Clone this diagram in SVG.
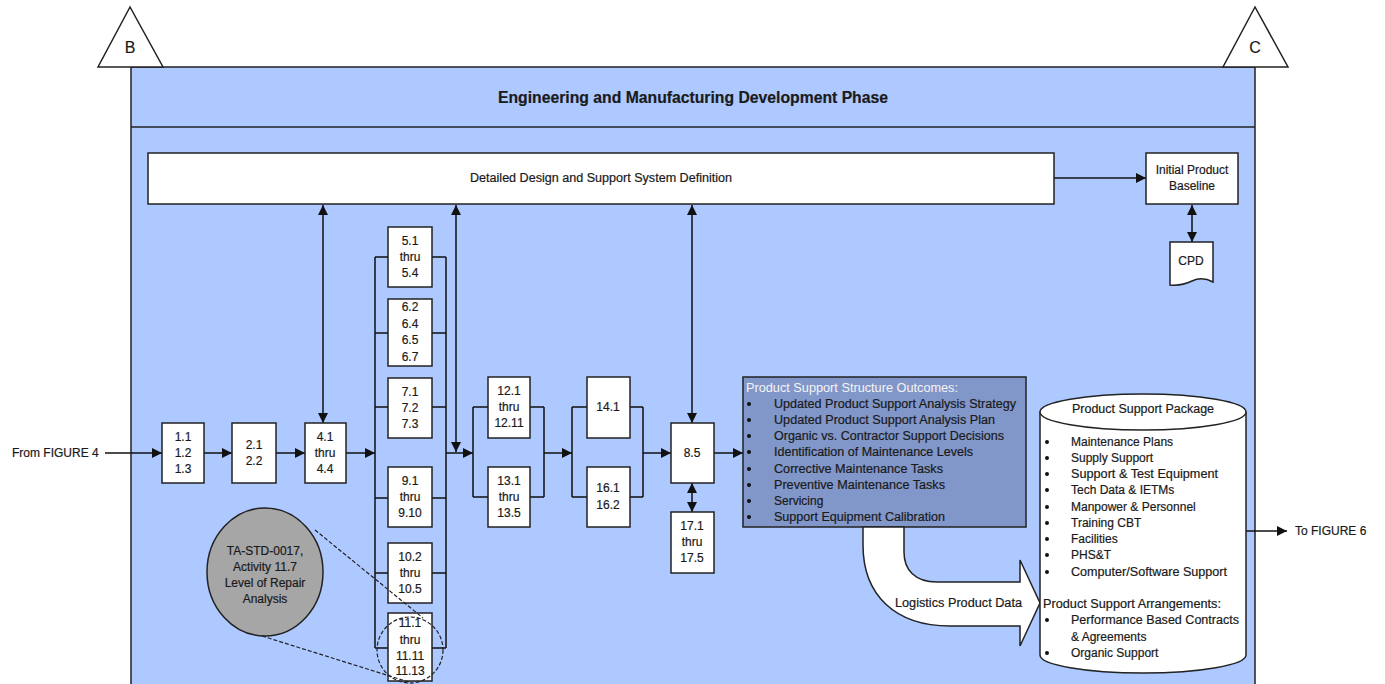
<svg xmlns="http://www.w3.org/2000/svg" width="1385" height="684" viewBox="0 0 1385 684">
<defs>
<marker id="ah" viewBox="0 0 10 10" refX="10" refY="5" markerWidth="10" markerHeight="10" markerUnits="userSpaceOnUse" orient="auto-start-reverse">
<path d="M0,0 L10,5 L0,10 Z" fill="#111"/>
</marker>
<style>
text{font-family:"Liberation Sans",Arial,sans-serif;fill:#1a1a1a;stroke:#1a1a1a;stroke-width:0.2;}
.t{font-size:12px;}
.c{text-anchor:middle;}
.box{fill:#fff;stroke:#222;stroke-width:1.5;}
.ln{fill:none;stroke:#111;stroke-width:1.5;}
.ar{fill:none;stroke:#111;stroke-width:1.5;marker-end:url(#ah);}
.da{fill:none;stroke:#111;stroke-width:1.5;marker-start:url(#ah);marker-end:url(#ah);}
.dash{fill:none;stroke:#222;stroke-width:1.2;stroke-dasharray:4,2;}
</style>
</defs>
<rect width="1385" height="684" fill="#fff"/>
<g id="frame">
<rect x="131" y="67" width="1124" height="640" fill="#ADC9FF" stroke="#222" stroke-width="1.5"/>
<line x1="131" y1="127" x2="1255" y2="127" stroke="#222" stroke-width="1.5"/>
<text x="693" y="103" class="c" font-size="16" font-weight="bold" textLength="390" lengthAdjust="spacingAndGlyphs">Engineering and Manufacturing Development Phase</text>
</g>
<g id="tri-b">
<polygon points="130,7 98,67 163,67" fill="#fff" stroke="#222" stroke-width="1.5"/>
<text x="130" y="53" class="c" font-size="16">B</text>
</g>
<g id="tri-c">
<polygon points="1255,7 1223,67 1288,67" fill="#fff" stroke="#222" stroke-width="1.5"/>
<text x="1255" y="53" class="c" font-size="16">C</text>
</g>
<g id="connectors">
<line class="ar" x1="105" y1="453" x2="162" y2="453"/>
<line class="ar" x1="204" y1="453" x2="232" y2="453"/>
<line class="ar" x1="276" y1="453" x2="305" y2="453"/>
<line class="ar" x1="346" y1="453" x2="375" y2="453"/>
<line class="da" x1="323" y1="205" x2="323" y2="423"/>
<path class="ln" d="M375,257 V648 M446,257 V648 M375,257 H388 M432,257 H446 M375,333 H388 M432,333 H446 M375,407 H388 M432,407 H446 M375,498 H388 M432,498 H446 M375,573 H388 M432,573 H446 M375,648 H388 M432,648 H446"/>
<line class="ar" x1="446" y1="453" x2="473" y2="453"/>
<line class="da" x1="456" y1="205" x2="456" y2="452"/>
<path class="ln" d="M473,407 V497 M544,407 V497 M473,407 H488 M530,407 H544 M473,497 H488 M530,497 H544"/>
<line class="ar" x1="544" y1="453" x2="572" y2="453"/>
<path class="ln" d="M572,407 V497 M643,407 V497 M572,407 H587 M630,407 H643 M572,497 H587 M630,497 H643"/>
<line class="ar" x1="643" y1="453" x2="671" y2="453"/>
<line class="da" x1="692" y1="205" x2="692" y2="423"/>
<line class="ar" x1="714" y1="453" x2="743" y2="453"/>
<line class="da" x1="692" y1="483" x2="692" y2="512"/>
<line class="ar" x1="1054" y1="178" x2="1146" y2="178"/>
<line class="da" x1="1192" y1="205" x2="1192" y2="242"/>
<line class="ar" x1="1246" y1="531" x2="1287" y2="531"/>
</g>
<g id="from-fig4"><text x="12" y="457" class="t">From FIGURE 4</text></g>
<g id="to-fig6"><text x="1295" y="535" class="t">To FIGURE 6</text></g>
<g id="design">
<rect class="box" x="148" y="153" width="906" height="51"/>
<text x="601" y="182" class="t c" textLength="262" lengthAdjust="spacingAndGlyphs">Detailed Design and Support System Definition</text>
</g>
<g id="baseline">
<rect class="box" x="1146" y="153" width="92" height="51"/>
<text x="1192" y="174" class="t c">Initial Product</text>
<text x="1192" y="190" class="t c">Baseline</text>
</g>
<g id="cpd">
<path class="box" d="M1170,242 H1213 V282 Q1202,276 1192,281 T1170,285 Z"/>
<text x="1191" y="265" class="t c">CPD</text>
</g>
<g id="n1"><rect class="box" x="162" y="423" width="42" height="60"/><text x="183" y="441" class="t c">1.1</text><text x="183" y="457" class="t c">1.2</text><text x="183" y="473" class="t c">1.3</text></g>
<g id="n2"><rect class="box" x="232" y="423" width="44" height="60"/><text x="254" y="449" class="t c">2.1</text><text x="254" y="465" class="t c">2.2</text></g>
<g id="n4"><rect class="box" x="305" y="423" width="41" height="60"/><text x="325" y="441" class="t c">4.1</text><text x="325" y="457" class="t c">thru</text><text x="325" y="473" class="t c">4.4</text></g>
<g id="n5"><rect class="box" x="388" y="227" width="44" height="60"/><text x="410" y="245" class="t c">5.1</text><text x="410" y="261" class="t c">thru</text><text x="410" y="277" class="t c">5.4</text></g>
<g id="n6"><rect class="box" x="388" y="299" width="44" height="67"/><text x="410" y="311" class="t c">6.2</text><text x="410" y="328" class="t c">6.4</text><text x="410" y="344" class="t c">6.5</text><text x="410" y="361" class="t c">6.7</text></g>
<g id="n7"><rect class="box" x="388" y="378" width="44" height="60"/><text x="410" y="396" class="t c">7.1</text><text x="410" y="412" class="t c">7.2</text><text x="410" y="428" class="t c">7.3</text></g>
<g id="n9"><rect class="box" x="388" y="467" width="44" height="60"/><text x="410" y="485" class="t c">9.1</text><text x="410" y="501" class="t c">thru</text><text x="410" y="517" class="t c">9.10</text></g>
<g id="n10"><rect class="box" x="388" y="543" width="44" height="60"/><text x="410" y="561" class="t c">10.2</text><text x="410" y="577" class="t c">thru</text><text x="410" y="593" class="t c">10.5</text></g>
<g id="n11"><rect class="box" x="388" y="613" width="44" height="68"/><text x="410" y="627" class="t c">11.1</text><text x="410" y="644" class="t c">thru</text><text x="410" y="660" class="t c">11.11</text><text x="410" y="675" class="t c">11.13</text></g>
<g id="n12"><rect class="box" x="488" y="377" width="42" height="61"/><text x="509" y="395" class="t c">12.1</text><text x="509" y="411" class="t c">thru</text><text x="509" y="427" class="t c">12.11</text></g>
<g id="n13"><rect class="box" x="488" y="467" width="42" height="60"/><text x="509" y="485" class="t c">13.1</text><text x="509" y="501" class="t c">thru</text><text x="509" y="517" class="t c">13.5</text></g>
<g id="n14"><rect class="box" x="587" y="377" width="43" height="61"/><text x="608" y="411" class="t c">14.1</text></g>
<g id="n16"><rect class="box" x="587" y="467" width="43" height="60"/><text x="608" y="492" class="t c">16.1</text><text x="608" y="509" class="t c">16.2</text></g>
<g id="n85"><rect class="box" x="671" y="423" width="43" height="60"/><text x="692" y="457" class="t c">8.5</text></g>
<g id="n17"><rect class="box" x="671" y="512" width="43" height="61"/><text x="692" y="530" class="t c">17.1</text><text x="692" y="546" class="t c">thru</text><text x="692" y="562" class="t c">17.5</text></g>
<g id="outcomes">
<rect x="743" y="377" width="283" height="150" fill="#8297C9" stroke="#222" stroke-width="1.5"/>
<text x="746" y="392" class="t" style="fill:#f4f4f4;stroke:none" textLength="212" lengthAdjust="spacingAndGlyphs">Product Support Structure Outcomes:</text>
<g fill="#111"><circle cx="749" cy="404" r="2"/><circle cx="749" cy="420" r="2"/><circle cx="749" cy="436" r="2"/><circle cx="749" cy="452" r="2"/><circle cx="749" cy="469" r="2"/><circle cx="749" cy="485" r="2"/><circle cx="749" cy="501" r="2"/><circle cx="749" cy="517" r="2"/></g>
<text x="774" y="408" class="t" textLength="242" lengthAdjust="spacingAndGlyphs">Updated Product Support Analysis Strategy</text>
<text x="774" y="424" class="t" textLength="221" lengthAdjust="spacingAndGlyphs">Updated Product Support Analysis Plan</text>
<text x="774" y="440" class="t" textLength="230" lengthAdjust="spacingAndGlyphs">Organic vs. Contractor Support Decisions</text>
<text x="774" y="456" class="t" textLength="199" lengthAdjust="spacingAndGlyphs">Identification of Maintenance Levels</text>
<text x="774" y="473" class="t" textLength="169" lengthAdjust="spacingAndGlyphs">Corrective Maintenance Tasks</text>
<text x="774" y="489" class="t" textLength="171" lengthAdjust="spacingAndGlyphs">Preventive Maintenance Tasks</text>
<text x="774" y="505" class="t">Servicing</text>
<text x="774" y="521" class="t" textLength="171" lengthAdjust="spacingAndGlyphs">Support Equipment Calibration</text>
</g>
<g id="logistics-arrow">
<path d="M863,527 V545 C863,595 895,626 950,626 H1020 V646 L1040,603 L1020,560 V582 H937 C915,582 904,570 904,552 V527 Z" fill="#fff" stroke="#222" stroke-width="1.5"/>
<text x="895" y="607" class="t" textLength="127" lengthAdjust="spacingAndGlyphs">Logistics Product Data</text>
</g>
<g id="package">
<path d="M1040,412 V655 A103,18 0 0 0 1246,655 V412" fill="#fff" stroke="#222" stroke-width="1.5"/>
<ellipse cx="1143" cy="412" rx="103" ry="18" fill="#fff" stroke="#222" stroke-width="1.5"/>
<text x="1143" y="413" class="t c" textLength="142" lengthAdjust="spacingAndGlyphs">Product Support Package</text>
<g fill="#111"><circle cx="1047" cy="442" r="2"/><circle cx="1047" cy="458" r="2"/><circle cx="1047" cy="474" r="2"/><circle cx="1047" cy="490" r="2"/><circle cx="1047" cy="507" r="2"/><circle cx="1047" cy="523" r="2"/><circle cx="1047" cy="539" r="2"/><circle cx="1047" cy="555" r="2"/><circle cx="1047" cy="572" r="2"/><circle cx="1047" cy="620" r="2"/><circle cx="1047" cy="653" r="2"/></g>
<text x="1071" y="446" class="t">Maintenance Plans</text>
<text x="1071" y="462" class="t">Supply Support</text>
<text x="1071" y="478" class="t" textLength="147" lengthAdjust="spacingAndGlyphs">Support &amp; Test Equipment</text>
<text x="1071" y="494" class="t">Tech Data &amp; IETMs</text>
<text x="1071" y="511" class="t">Manpower &amp; Personnel</text>
<text x="1071" y="527" class="t">Training CBT</text>
<text x="1071" y="543" class="t">Facilities</text>
<text x="1071" y="559" class="t">PHS&amp;T</text>
<text x="1071" y="576" class="t" textLength="156" lengthAdjust="spacingAndGlyphs">Computer/Software Support</text>
<text x="1043" y="608" class="t" textLength="178" lengthAdjust="spacingAndGlyphs">Product Support Arrangements:</text>
<text x="1071" y="624" class="t" textLength="168" lengthAdjust="spacingAndGlyphs">Performance Based Contracts</text>
<text x="1071" y="641" class="t">&amp; Agreements</text>
<text x="1071" y="657" class="t">Organic Support</text>
</g>
<g id="lora">
<ellipse cx="265" cy="572" rx="58" ry="64" fill="#A6A6A6" stroke="#222" stroke-width="1.5"/>
<text x="265" y="555" class="t c">TA-STD-0017,</text>
<text x="265" y="571" class="t c">Activity 11.7</text>
<text x="265" y="587" class="t c">Level of Repair</text>
<text x="265" y="603" class="t c">Analysis</text>
</g>
<g id="zoom-callout">
<circle cx="410" cy="650" r="33" class="dash"/>
<line class="dash" x1="315" y1="530" x2="423" y2="618"/>
<line class="dash" x1="262" y1="636" x2="412" y2="683"/>
</g>
</svg>
